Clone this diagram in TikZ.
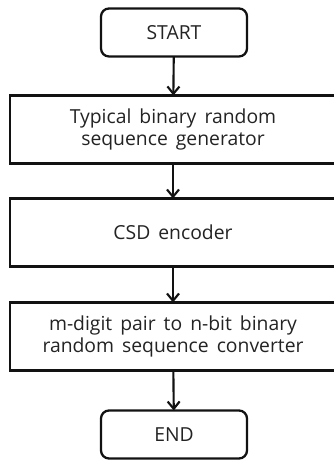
\documentclass[tikz,border=0pt]{standalone}
\usepackage{fontspec}
\setmainfont[WordSpace={1.6,0.4,0.2}]{Open Sans}
\usetikzlibrary{arrows.meta}

\definecolor{flowInk}{RGB}{18,18,18}
\definecolor{flowText}{RGB}{35,35,35}

\begin{document}
\begin{tikzpicture}[x=0.75pt,y=0.75pt,inner sep=0pt,outer sep=0pt,
  termbox/.style={draw=flowInk,line width=1.7pt,rounded corners=6pt,minimum width=109.5pt,minimum height=36pt,text=flowText,font=\fontsize{14.5}{16.5}\selectfont},
  procbox/.style={draw=flowInk,line width=1.7pt,minimum width=244.5pt,minimum height=51pt,align=center,text=flowText,font=\fontsize{14.5}{16.5}\selectfont},
  flow/.style={draw=flowInk,line width=1.6pt,-{Straight Barb[length=5.5pt,width=9pt,line width=1.6pt]}}]
\useasboundingbox (0,0) rectangle (334,460);
\clip (0,0) rectangle (334,460);
\node[termbox] (start) at (174.000,427.500) {START};
\node[procbox] (gen) at (173.000,330.500) {Typical binary random\\sequence generator};
\node[procbox] (csd) at (173.000,227.500) {CSD encoder};
\node[procbox] (conv) at (173.000,123.500) {m-digit pair to n-bit binary\\random sequence converter};
\node[termbox] (stop) at (174.000,25.500) {END};
\draw[flow] (start) -- (gen);
\draw[flow] (gen) -- (csd);
\draw[flow] (csd) -- (conv);
\draw[flow] (conv) -- (stop);
\end{tikzpicture}
\end{document}
